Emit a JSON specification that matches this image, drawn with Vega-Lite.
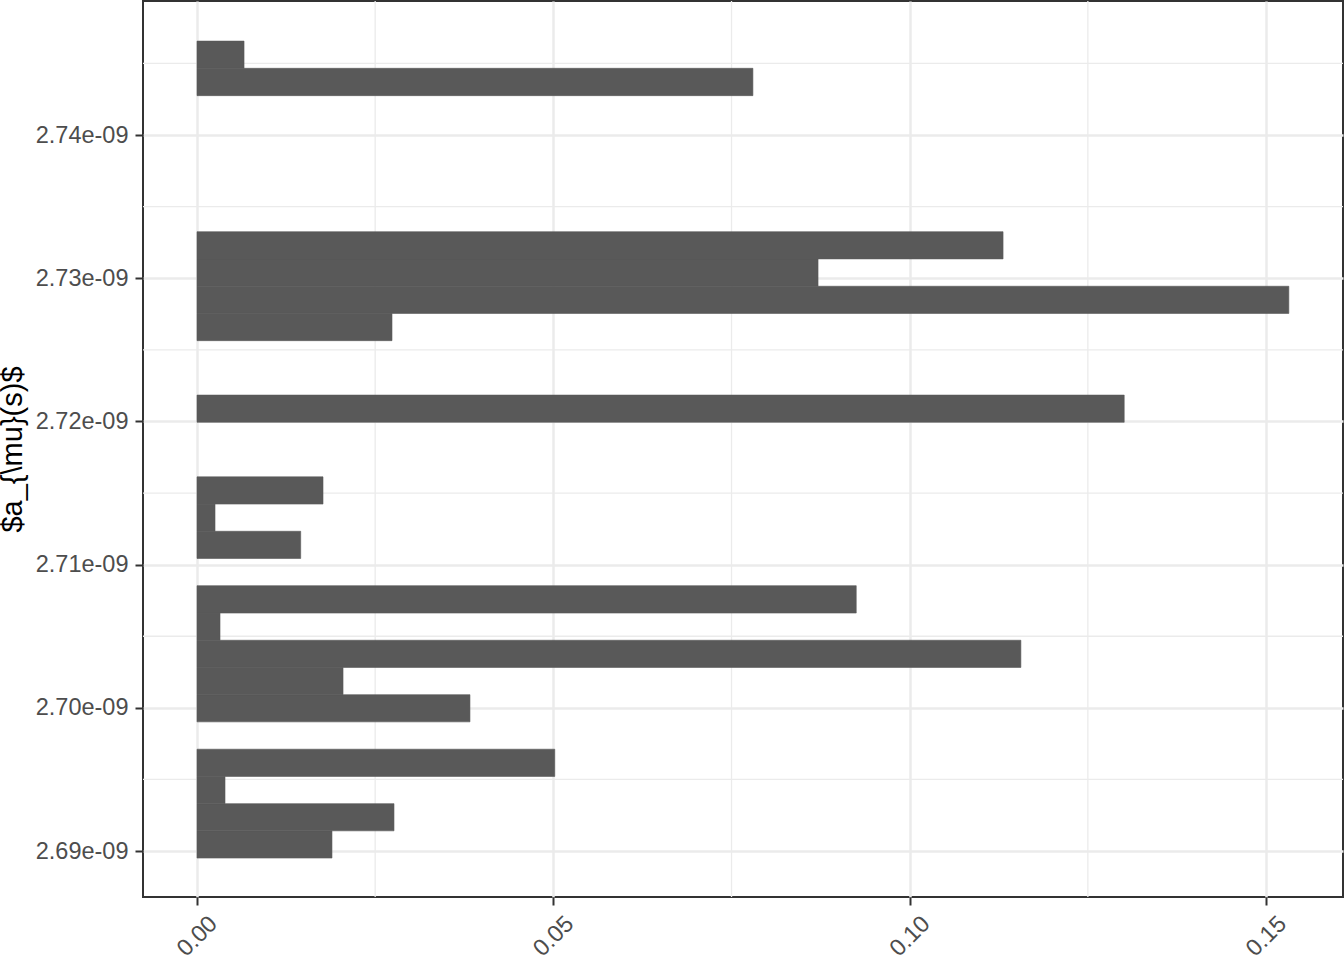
{
  "$schema": "https://vega.github.io/schema/vega-lite/v6.json",
  "width": 1200,
  "height": 896,
  "autosize": "none",
  "padding": {"left": 143, "top": 1, "right": 1, "bottom": 63},
  "background": "white",
  "config": {
    "view": {"stroke": "#333333", "strokeWidth": 2},
    "font": "Liberation Sans",
    "axis": {
      "domain": false,
      "grid": true,
      "gridColor": "#EBEBEB",
      "gridWidth": 2.5,
      "tickColor": "#333333",
      "tickWidth": 2,
      "tickSize": 8,
      "labelColor": "#4D4D4D",
      "labelFont": "Liberation Sans",
      "labelFontSize": 23.5,
      "titleFont": "Liberation Sans",
      "titleFontSize": 29,
      "titleFontWeight": "normal",
      "titleColor": "#000000"
    }
  },
  "datasets": {
    "bars": [
      {"lo": 2.68951e-9, "hi": 2.69141e-9, "value": 0.01894},
      {"lo": 2.69141e-9, "hi": 2.69331e-9, "value": 0.02764},
      {"lo": 2.69331e-9, "hi": 2.69521e-9, "value": 0.00393},
      {"lo": 2.69521e-9, "hi": 2.69711e-9, "value": 0.0502},
      {"lo": 2.69902e-9, "hi": 2.70092e-9, "value": 0.0383},
      {"lo": 2.70092e-9, "hi": 2.70282e-9, "value": 0.02049},
      {"lo": 2.70282e-9, "hi": 2.70472e-9, "value": 0.1156},
      {"lo": 2.70472e-9, "hi": 2.70662e-9, "value": 0.00323},
      {"lo": 2.70662e-9, "hi": 2.70853e-9, "value": 0.0925},
      {"lo": 2.71043e-9, "hi": 2.71233e-9, "value": 0.01455},
      {"lo": 2.71233e-9, "hi": 2.71423e-9, "value": 0.00253},
      {"lo": 2.71423e-9, "hi": 2.71613e-9, "value": 0.01768},
      {"lo": 2.71994e-9, "hi": 2.72184e-9, "value": 0.1301},
      {"lo": 2.72564e-9, "hi": 2.72754e-9, "value": 0.02736},
      {"lo": 2.72754e-9, "hi": 2.72944e-9, "value": 0.1532},
      {"lo": 2.72944e-9, "hi": 2.73135e-9, "value": 0.08714},
      {"lo": 2.73135e-9, "hi": 2.73325e-9, "value": 0.1131},
      {"lo": 2.74275e-9, "hi": 2.74466e-9, "value": 0.078},
      {"lo": 2.74466e-9, "hi": 2.74656e-9, "value": 0.0066}
    ],
    "xminor": [{"v": 0.025}, {"v": 0.075}, {"v": 0.125}],
    "yminor": [{"v": 2.695e-9}, {"v": 2.705e-9}, {"v": 2.715e-9}, {"v": 2.725e-9}, {"v": 2.735e-9}, {"v": 2.745e-9}]
  },
  "encoding": {},
  "layer": [
    {
      "data": {"name": "xminor"},
      "mark": {"type": "rule", "color": "#EBEBEB", "strokeWidth": 1.3},
      "encoding": {
        "x": {"field": "v", "type": "quantitative"}
      }
    },
    {
      "data": {"name": "yminor"},
      "mark": {"type": "rule", "color": "#EBEBEB", "strokeWidth": 1.3},
      "encoding": {
        "y": {"field": "v", "type": "quantitative"}
      }
    },
    {
      "data": {"name": "bars"},
      "mark": {"type": "rect", "color": "#595959", "stroke": "#595959", "strokeWidth": 0.6},
      "encoding": {
        "x": {
          "field": "value",
          "type": "quantitative",
          "scale": {"domain": [-0.007577, 0.1608], "nice": false, "zero": false},
          "axis": {
            "title": null,
            "values": [0, 0.05, 0.1, 0.15],
            "format": ".2f",
            "labelAngle": -45,
            "labelAlign": "center",
            "labelBaseline": "middle",
            "labelPadding": 31
          }
        },
        "x2": {"datum": 0},
        "y": {
          "field": "lo",
          "type": "quantitative",
          "scale": {"domain": [2.68679e-9, 2.74936e-9], "nice": false, "zero": false},
          "axis": {
            "title": "$a_{\\mu}(s)$",
            "values": [2.69e-9, 2.70e-9, 2.71e-9, 2.72e-9, 2.73e-9, 2.74e-9],
            "labelExpr": "replace(format(datum.value, '.2e'), 'e-9', 'e-09')",
            "labelPadding": 7,
            "titlePadding": 8
          }
        },
        "y2": {"field": "hi"}
      }
    }
  ]
}
